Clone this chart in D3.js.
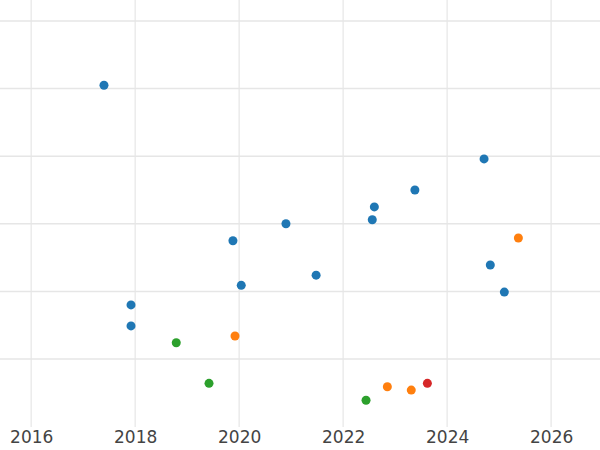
<!DOCTYPE html>
<html><head><meta charset="utf-8">
<script src="https://cdn.jsdelivr.net/npm/d3@7"></script>
<style>body{margin:0;background:#fff}svg{display:block}</style>
</head><body>
<svg width="600" height="450"></svg>
<script>
// points: year, value, group
var years  = [2017.40,2024.71,2023.38,2022.60,2020.90,2022.56,2019.88,2024.83,2021.48,2020.04,2025.10,2017.92,2017.92,
              2025.37,2019.92,2022.85,2023.31,
              2018.79,2019.42,2022.44,
              2023.62];
var values = [5.05,3.96,3.50,3.25,3.00,3.06,2.75,2.39,2.24,2.09,1.99,1.80,1.49,
              2.79,1.34,0.59,0.54,
              1.24,0.64,0.39,
              0.64];
var groups = [0,0,0,0,0,0,0,0,0,0,0,0,0, 1,1,1,1, 2,2,2, 3];
var xTicks = [2016,2018,2020,2022,2024,2026];
var yTicks = [1,2,3,4,5,6];
var colors = ['#1f77b4','#ff7f0e','#2ca02c','#d62728'];

var svg = d3.select('svg');
var x = d3.scaleLinear().domain([2015.4, 2026.94]).range([0, 600]);
var y = d3.scaleLinear().domain([1, 6]).range([359, 21]);

svg.append('g').selectAll('line').data(xTicks).enter().append('line')
  .attr('x1', d => x(d)).attr('x2', d => x(d))
  .attr('y1', 0).attr('y2', 427)
  .attr('stroke', '#ebebeb').attr('stroke-width', 1.5);
svg.append('g').selectAll('line').data(yTicks).enter().append('line')
  .attr('x1', 0).attr('x2', 600)
  .attr('y1', d => y(d)).attr('y2', d => y(d))
  .attr('stroke', '#e6e6e6').attr('stroke-width', 1.5);

var ax = svg.append('g').attr('transform', 'translate(0,427)')
  .call(d3.axisBottom(x).tickValues(xTicks).tickFormat(d3.format('d')).tickSize(0).tickPadding(4));
ax.select('.domain').remove();
ax.selectAll('text').attr('font-family', 'DejaVu Sans').attr('font-size', 17).attr('fill', '#444');

svg.append('g').selectAll('circle').data(years).enter().append('circle')
  .attr('cx', d => x(d))
  .attr('cy', (d, i) => y(values[i]))
  .attr('r', 4.5)
  .attr('fill', (d, i) => colors[groups[i]]);
</script>
</body></html>
